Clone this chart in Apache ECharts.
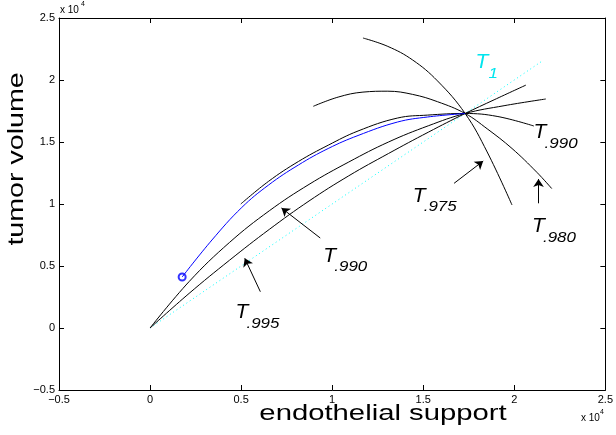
<!DOCTYPE html>
<html><head><meta charset="utf-8">
<script src="https://cdn.jsdelivr.net/npm/echarts@6/dist/echarts.min.js"></script>
<style>html,body{margin:0;padding:0;background:#fff}#c{width:616px;height:435px}</style>
</head><body><div id="c"></div>
<script>
// ---- data (real units; axes show value / 1e4) ----
const tickValues = [-5000, 0, 5000, 10000, 15000, 20000, 25000];
const tickLabels = ['\u22120.5', '0', '0.5', '1', '1.5', '2', '2.5'];
const diagonalT1 = [[0, 0], [21600, 21600]];
const trajectory = [[1762,4113],[3399,7097],[5035,9718],[6508,11532],[8145,13145],[9782,14476],[11419,15524],[13595,16613],[15232,17016],[17300,17300]];
const curveUpper990 = [[4981,10000],[6508,11831],[8145,13427],[9782,14742],[11419,15887],[13595,16935],[15232,17169],[17300,17300],[19056,17065],[21075,16290]];
const curveOrigin990 = [[0,0],[2144,3742],[4365,6903],[6547,9452],[8729,11581],[10911,13387],[13093,15000],[15276,16306],[17300,17300],[19438,17927],[21730,18468]];
const curveOrigin995 = [[0,0],[2144,2790],[4365,5468],[6547,7952],[8729,10242],[10911,12274],[13093,14073],[15276,15790],[17300,17300],[18892,18403],[20638,19589]];
const curve980 = [[8963,17879],[10327,18621],[11691,19024],[13055,19097],[14419,18839],[15783,18250],[17300,17300],[18511,16065],[19875,14476],[21239,12556],[22058,11242]];
const curve975 = [[11691,23387],[13055,22710],[14419,21613],[15783,19927],[17300,17300],[18511,14194],[19875,9919]];
const startPoint = [[1762,4113]];
// arrows: [tail, head]
const arrows = [
  [[9345,7258],[7217,9677]],
  [[6056,2927],[5200,5620]],
  [[16694,11669],[18293,13468]],
  [[21330,10056],[21330,12016]]
];
// curve labels: main text, subscript, anchor (data units)
const labelMain = ['T', 'T', 'T', 'T', 'T', 'T'];
const labelSub = ['1', '.990', '.975', '.980', '.990', '.995'];
const labelAnchor = [[17870,22020],[21060,16370],[14420,11270],[20970,8790],[9510,6430],[4690,1850]];
const labelColor = ['#00e5ee', '#000', '#000', '#000', '#000', '#000'];

const chart = echarts.init(document.getElementById('c'), null, {renderer: 'canvas'});
const FONT = 'Liberation Sans, Arial, Helvetica, sans-serif';
function fmt(v) { const i = tickValues.indexOf(v); return i >= 0 ? tickLabels[i] : ''; }
function axisBase(pos, showLabel, isX) {
  return {
    type: 'value', position: pos, min: -5000, max: 25000, interval: 5000,
    axisLine: {show: true, onZero: false, lineStyle: {color: '#000', width: 1}},
    axisTick: {show: true, inside: true, length: 5, lineStyle: {color: '#000', width: 1}},
    splitLine: {show: false},
    axisLabel: {show: showLabel, formatter: fmt, color: '#000', fontSize: 11, fontFamily: FONT, margin: isX ? 4 : 4}
  };
}
function lineSeries(name, data, color, width, type) {
  return {name, type: 'line', data, showSymbol: false, smooth: 0.4, silent: true,
    lineStyle: {color, width, type: type || 'solid'}, animation: false};
}
const option = {
  animation: false,
  grid: {left: 59, top: 18, right: 7, bottom: 45, containLabel: false},
  xAxis: [axisBase('bottom', true, true), axisBase('top', false, true)],
  yAxis: [axisBase('left', true, false), axisBase('right', false, false)],
  series: [
    Object.assign(lineSeries('T1', diagonalT1, '#00ffff', 1, [1, 3]), {smooth: false}),
    lineSeries('c990u', curveUpper990, '#000', 1),
    lineSeries('c990o', curveOrigin990, '#000', 1),
    lineSeries('c995', curveOrigin995, '#000', 1),
    lineSeries('c980', curve980, '#000', 1),
    lineSeries('c975', curve975, '#000', 1),
    lineSeries('traj', trajectory, '#0000ff', 1),
    {type: 'scatter', data: startPoint, symbol: 'emptyCircle', symbolSize: 7, silent: true,
     itemStyle: {color: '#0000ff', borderColor: '#0000ff', borderWidth: 1}},
    {type: 'line', data: [], silent: true,
     markLine: {silent: true, animation: false, symbol: ['none', 'arrow'], symbolSize: 8,
       label: {show: false}, emphasis: {disabled: true},
       lineStyle: {color: '#000', width: 1, type: 'solid'},
       data: arrows.map(a => [{coord: a[0]}, {coord: a[1]}])}}
  ]
};
chart.setOption(option);

const g = [];
function txt(x, y, text, size, extra, style) {
  return Object.assign({type: 'text', x, y, silent: true,
    style: Object.assign({text, fontSize: size, fontFamily: FONT, fill: '#000',
      align: 'left', verticalAlign: 'top', textAlign: 'left', textVerticalAlign: 'top'}, style || {})}, extra || {});
}
for (let i = 0; i < labelMain.length; i++) {
  const p = chart.convertToPixel({xAxisIndex: 0, yAxisIndex: 0}, labelAnchor[i]);
  const col = labelColor[i];
  const dx = i === 0 ? 13 : 11;
  const dy = i === 0 ? 11 : 11;
  g.push(txt(p[0], p[1] - 3, labelMain[i], 21, null, {fontStyle: 'italic', fill: col}));
  g.push(txt(p[0] + dx, p[1] + dy, labelSub[i], 15, {scaleX: 1.13}, {fontStyle: 'italic', fill: col}));
}
g.push(txt(16.5, 159, 'tumor volume', 22, {rotation: Math.PI / 2, scaleX: 1.3},
  {align: 'center', verticalAlign: 'middle', textAlign: 'center', textVerticalAlign: 'middle'}));
g.push(txt(383, 414, 'endothelial support', 22, {scaleX: 1.33},
  {align: 'center', verticalAlign: 'middle', textAlign: 'center', textVerticalAlign: 'middle'}));
g.push(txt(60, 5, 'x 10', 10));
g.push(txt(81, 1, '4', 7));
g.push(txt(581, 413, 'x 10', 10));
g.push(txt(600, 409, '4', 7));
chart.setOption({graphic: {elements: g}});
</script></body></html>
